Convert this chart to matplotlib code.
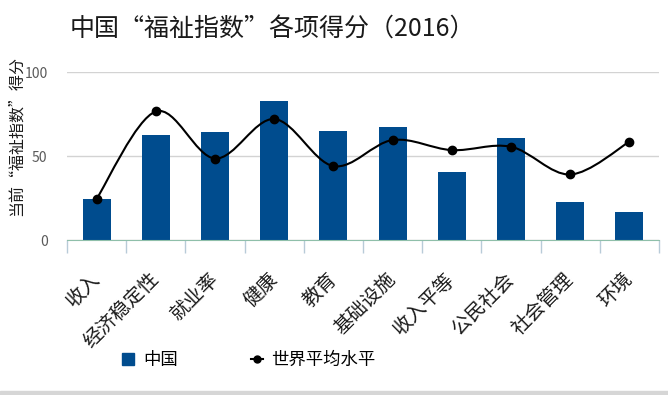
import numpy as np
import matplotlib
matplotlib.use("Agg")
import matplotlib.pyplot as plt
from matplotlib.path import Path
from matplotlib.patches import PathPatch, Patch, Rectangle
from matplotlib.lines import Line2D

plt.rcParams['font.family'] = ['Noto Sans CJK SC', 'DejaVu Sans']

# data
categories = ["收入", "经济稳定性", "就业率", "健康", "教育", "基础设施",
              "收入平等", "公民社会", "社会管理", "环境"]
china = [24.5, 62.5, 64.5, 82.5, 65, 67.5, 40.5, 61, 22.5, 16.5]
world = [24.5, 76.5, 48.5, 72, 44, 59.5, 53.5, 55.5, 39, 58.5]

bar_color = "#004c8e"

fig = plt.figure(figsize=(6.68, 3.95), dpi=100)
ax = fig.add_axes([67/668, 1-240/395, 592/668, 168/395])

x = np.arange(len(categories))
ax.bar(x, china, width=0.47, color=bar_color, zorder=2)

# smoothed line (excel style) built as bezier path through the points
pts = np.column_stack([x, world]).astype(float)
verts = [tuple(pts[0])]
codes = [Path.MOVETO]
n = len(pts)
for i in range(n - 1):
    p0 = pts[i - 1] if i > 0 else pts[i]
    p1 = pts[i]
    p2 = pts[i + 1]
    p3 = pts[i + 2] if i + 2 < n else pts[i + 1]
    c1 = p1 + (p2 - p0) / 6
    c2 = p2 - (p3 - p1) / 6
    verts += [tuple(c1), tuple(c2), tuple(p2)]
    codes += [Path.CURVE4] * 3
ax.add_patch(PathPatch(Path(verts, codes), fill=False, lw=1.5, ec="black", zorder=3))
ax.plot(x, world, "o", color="black", ms=6, zorder=4)

ax.set_xlim(-0.5, len(categories) - 0.5)
ax.set_ylim(0, 100)
ax.set_yticks([0, 50, 100])
ax.grid(axis="y", color="#d3d3d3", lw=1, zorder=0)
for s in ["left", "right", "top"]:
    ax.spines[s].set_visible(False)
ax.spines["bottom"].set_color("#8fbfaa")
ax.tick_params(axis="y", length=0, labelsize=10, labelcolor="#5a5a5a", pad=14)

# category separators on the x axis
ax.set_xticks(np.arange(len(categories) + 1) - 0.5, minor=True)
ax.tick_params(axis="x", which="minor", length=9, color="#b8cbd8", width=1)
ax.set_xticks(x)
ax.set_xticklabels(categories, rotation=45, ha="right", va="center",
                   rotation_mode="anchor", fontsize=14, color="#1a1a1a")
ax.tick_params(axis="x", which="major", length=0, pad=26)

fig.text(272/668, 1-30/395, "中国“福祉指数”各项得分（2016）", ha="center", va="center",
         fontsize=18, color="#1a1a1a")
fig.text(16/668, 1-136/395, "当前“福祉指数”得分", rotation=90, ha="center", va="center",
         fontsize=11.5, color="#1a1a1a")

handles = [Patch(color=bar_color),
           Line2D([0], [0], color="black", marker="o", ms=5, lw=1.5)]
fig.legend(handles, ["中国", "世界平均水平"], ncol=2, frameon=False,
           loc="center", bbox_to_anchor=(249/668, 1-360/395), fontsize=12.5,
           columnspacing=4.2, handlelength=0.7, handleheight=0.7,
           handletextpad=0.5)

fig.patches.append(Rectangle((0, 0), 1, 4/395, transform=fig.transFigure,
                             color="#d6d6d6", zorder=0))

fig.savefig("out.png", dpi=100)
